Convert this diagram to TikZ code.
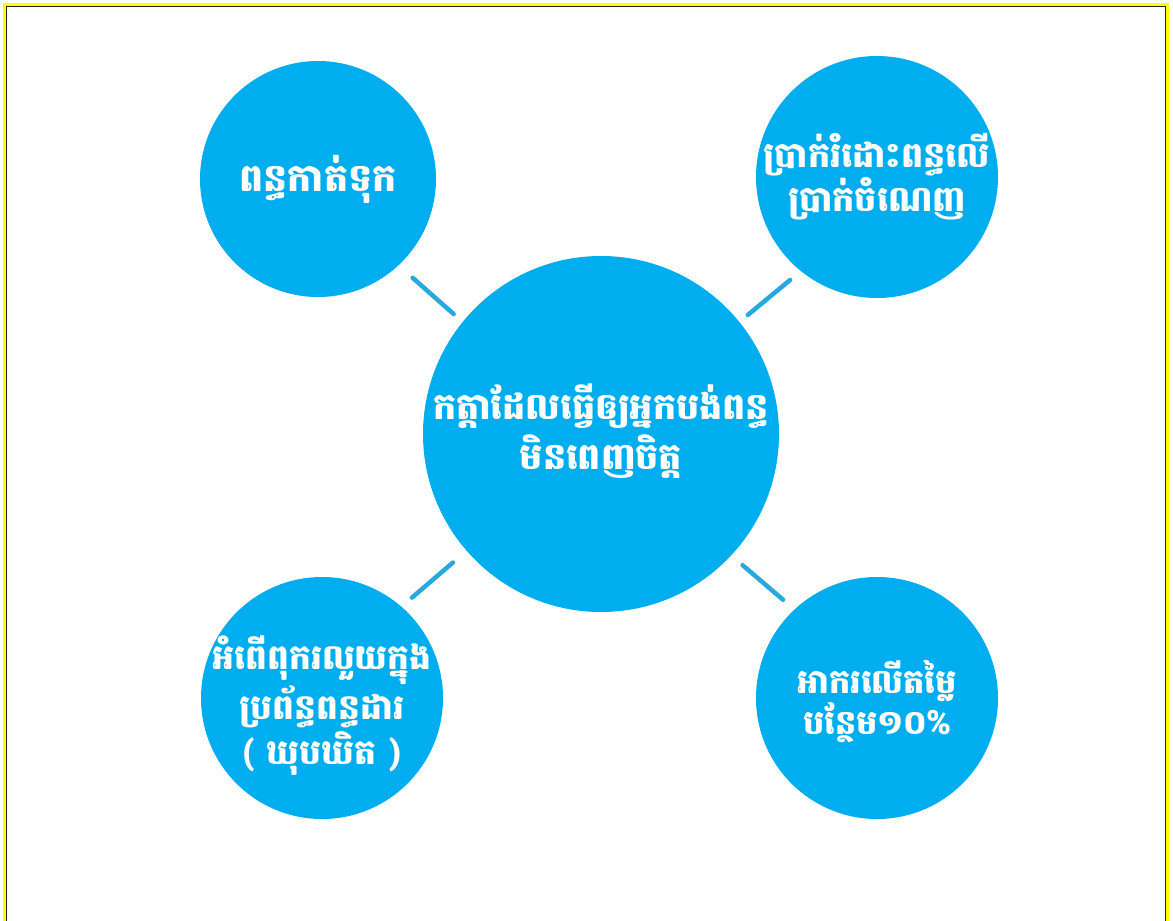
\documentclass[tikz,border=0pt]{standalone}
\usepackage{fontspec}
\newfontfamily\kh[Script=Khmer]{Battambang}
\definecolor{bubcol}{HTML}{00AEEF}
\definecolor{concol}{HTML}{29A8E0}
\definecolor{frameyel}{HTML}{FFFF00}
\begin{document}
\begin{tikzpicture}[x=1pt,y=-1pt,
  bub/.style={circle,fill=bubcol,draw=none,inner sep=0pt,outer sep=0pt},
  lab/.style={text=white,align=center,font=\kh\bfseries\fontsize{35}{41}\selectfont,inner sep=0pt},
  conn/.style={draw=concol,line width=4.5pt,line cap=round}]
\useasboundingbox (0,0) rectangle (1173,921);
\fill[white] (0,0) rectangle (1173,921);
\draw[frameyel,line width=3pt] (4.5,4.5) rectangle (1167.5,935);
\draw[black!85,line width=1.5pt] (6.7,6.7) rectangle (1165.3,935);
% bubbles
\node[bub,minimum size=236pt] (tl) at (318,179) {};
\node[bub,minimum size=242pt] (tr) at (877,177) {};
\node[bub,minimum size=356pt] (c) at (601,434) {};
\node[bub,minimum size=242pt] (bl) at (322,698) {};
\node[bub,minimum size=242pt] (br) at (877,698) {};
% labels
\node[lab,font=\kh\bfseries\fontsize{38}{41}\selectfont] (tlt) at (tl.center) {ពន្ធកាត់ទុក};
\node[lab] (trt) at (tr.center) {ប្រាក់រំដោះពន្ធលើ\\ប្រាក់ចំណេញ};
\node[lab,font=\kh\bfseries\fontsize{36.5}{50}\selectfont] (ct) at ([yshift=3pt]c.center) {កត្តាដែលធ្វើឲ្យអ្នកបង់ពន្ធ\\មិនពេញចិត្ត};
\node[lab,font=\kh\bfseries\fontsize{34.5}{45}\selectfont] (blt) at ([yshift=-8pt]bl.center) {អំពើពុករលួយក្នុង\\ប្រព័ន្ធពន្ធដារ\\( ឃុបឃិត )};
\node[lab,font=\kh\bfseries\fontsize{33.5}{41}\selectfont] (brt) at ([yshift=-3pt]br.center) {អាករលើតម្លៃ\\បន្ថែម១០\%};
% connectors
\draw[conn,shorten <=19pt,shorten >=12pt] (tl.-47) -- (c.141);
\draw[conn,shorten <=14pt,shorten >=11pt] (tr.-129.6) -- (c.39.8);
\draw[conn,shorten <=14pt,shorten >=18pt] (bl.49) -- (c.221.5);
\draw[conn,shorten <=15pt,shorten >=15pt] (br.133.2) -- (c.-43);
\end{tikzpicture}
\end{document}
